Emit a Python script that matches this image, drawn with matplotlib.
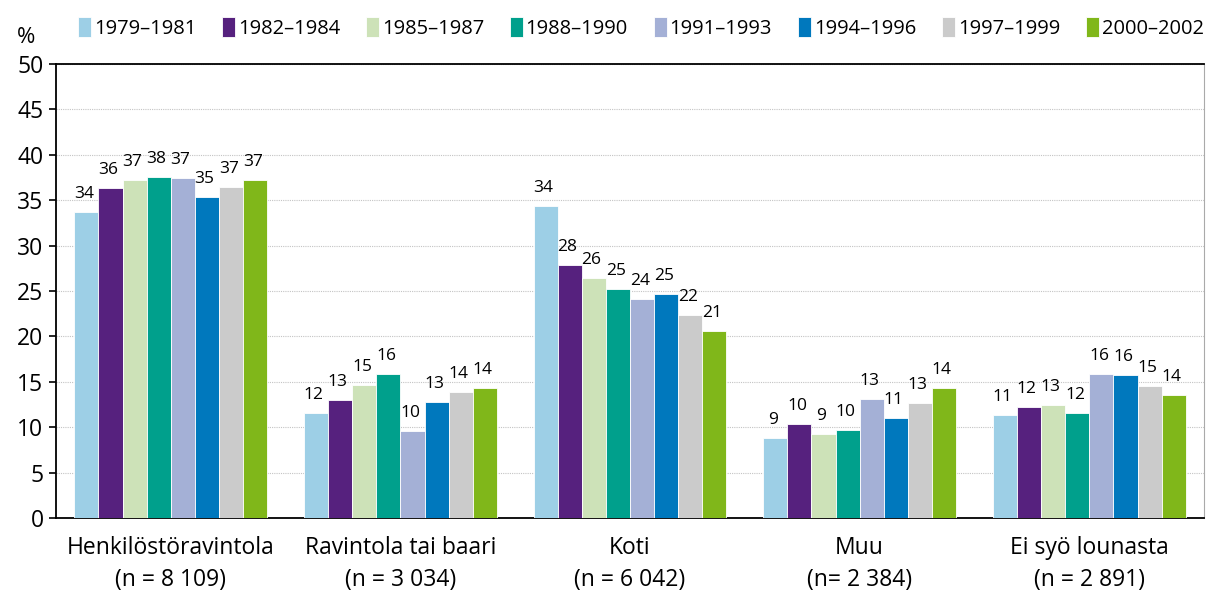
import numpy as np
import matplotlib.pyplot as plt

plt.rcParams['font.family'] = ['Open Sans', 'DejaVu Sans']

categories = ['Henkilöstöravintola\n(n = 8 109)', 'Ravintola tai baari\n(n = 3 034)',
              'Koti\n(n = 6 042)', 'Muu\n(n= 2 384)', 'Ei syö lounasta\n(n = 2 891)']
periods = ['1979–1981', '1982–1984', '1985–1987', '1988–1990',
           '1991–1993', '1994–1996', '1997–1999', '2000–2002']
colors = ['#9dcfe6', '#56217e', '#cde2b8', '#00a08c',
          '#a4b0d6', '#0078bd', '#cbcbcb', '#80b71a']

# bar heights, one list per period
v1979 = [33.7, 11.6, 34.4, 8.8, 11.3]
v1982 = [36.3, 13.0, 27.9, 10.3, 12.2]
v1985 = [37.2, 14.7, 26.4, 9.2, 12.4]
v1988 = [37.6, 15.9, 25.2, 9.7, 11.6]
v1991 = [37.5, 9.6, 24.1, 13.1, 15.9]
v1994 = [35.3, 12.8, 24.7, 11.0, 15.7]
v1997 = [36.5, 13.9, 22.4, 12.7, 14.5]
v2000 = [37.2, 14.3, 20.6, 14.3, 13.6]
# printed labels
l1979 = [34, 12, 34, 9, 11]
l1982 = [36, 13, 28, 10, 12]
l1985 = [37, 15, 26, 9, 13]
l1988 = [38, 16, 25, 10, 12]
l1991 = [37, 10, 24, 13, 16]
l1994 = [35, 13, 25, 11, 16]
l1997 = [37, 14, 22, 13, 15]
l2000 = [37, 14, 21, 14, 14]

values = [v1979, v1982, v1985, v1988, v1991, v1994, v1997, v2000]
labels = [l1979, l1982, l1985, l1988, l1991, l1994, l1997, l2000]

fig = plt.figure(figsize=(12.07, 5.91), dpi=100)
ax = fig.add_axes([0.0464, 0.1235, 0.9512, 0.7682])

x = np.arange(len(categories)) + 0.5
w = 0.105
for i, (vals, labs, c) in enumerate(zip(values, labels, colors)):
    pos = x + (i - 3.5) * w
    ax.bar(pos, vals, width=w, color=c, edgecolor='white', linewidth=0.6,
           label=periods[i], zorder=3)
    for p, v, t in zip(pos, vals, labs):
        ax.text(p - 0.01, v + 1.1, str(t), ha='center', va='bottom', fontsize=12.5)

ax.set_xlim(0, 5)
ax.set_ylim(0, 50)
ax.set_yticks(range(0, 51, 5))
ax.set_xticks(x)
ax.set_xticklabels(categories, fontsize=16.5, linespacing=1.45)
ax.tick_params(axis='x', length=0, pad=13)
ax.tick_params(axis='y', labelsize=16.5, length=5, width=1.2, direction='out', pad=4)
ax.yaxis.grid(True, linestyle=(0, (1, 1)), color='#c4c4c4', linewidth=0.8, zorder=0)
for s in ['left', 'bottom', 'top']:
    ax.spines[s].set_linewidth(1.3)
ax.spines['right'].set_color('#aaaaaa')

fig.text(0.022, 0.937, '%', fontsize=16, ha='center', va='center')
fig.legend(loc='center', bbox_to_anchor=(0.531, 0.953), ncol=8, frameon=False,
           fontsize=14.5, handlelength=0.65, handleheight=1.2, handletextpad=0.12,
           columnspacing=1.3, borderaxespad=0)

fig.savefig('out.png', dpi=100)
